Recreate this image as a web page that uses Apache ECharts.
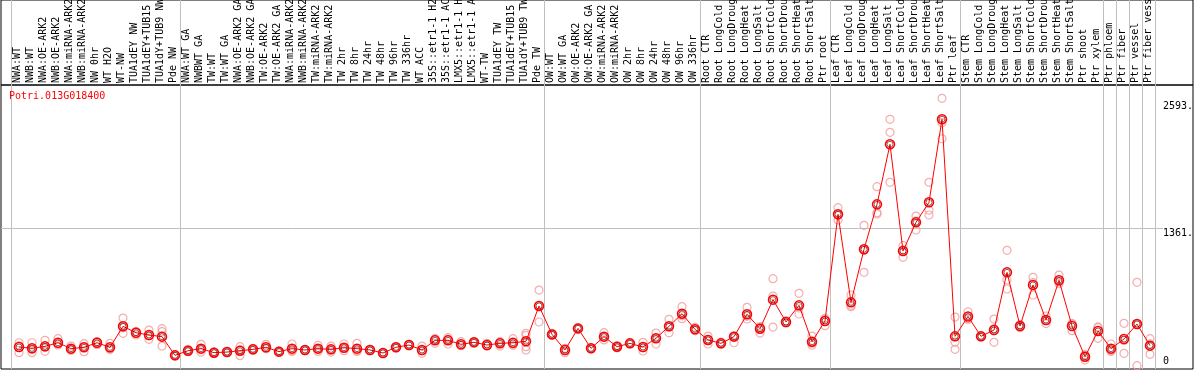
<!DOCTYPE html>
<html><head><meta charset="utf-8">
<script src="https://cdn.jsdelivr.net/npm/echarts@6/dist/echarts.min.js"></script>
<style>html,body{margin:0;padding:0;background:#fff}#c{width:1194px;height:370px}</style>
</head><body><div id="c"></div>
<script>
const geneId = 'Potri.013G018400';
const categories = ['NWA:WT','NWB:WT','NWA:OE-ARK2','NWB:OE-ARK2','NWA:miRNA-ARK2','NWB:miRNA-ARK2','NW 0hr','WT H2O','WT-NW','TUA1dEY NW','TUA1dEY+TUB15 NW','TUA1dY+TUB9 NW','Pde NW',
'NWA:WT GA','NWBWT GA','TW:WT','TW:WT GA','NWA:OE-ARK2 GA','NWB:OE-ARK2 GA','TW:OE-ARK2','TW:OE-ARK2 GA','NWA:miRNA-ARK2','NWB:miRNA-ARK2','TW:miRNA-ARK2','TW:miRNA-ARK2','TW 2hr','TW 8hr','TW 24hr','TW 48hr','TW 96hr','TW 336hr','WT ACC','35S::etr1-1 H2O','35S::etr1-1 ACC','LMX5::etr1-1 H2O','LMX5::etr1-1 ACC','WT-TW','TUA1dEY TW','TUA1dEY+TUB15 TW','TUA1dY+TUB9 TW','Pde TW',
'OW:WT','OW:WT GA','OW:OE-ARK2','OW:OE-ARK2 GA','OW:miRNA-ARK2','OW:miRNA-ARK2','OW 2hr','OW 8hr','OW 24hr','OW 48hr','OW 96hr','OW 336hr',
'Root CTR','Root LongCold','Root LongDrought','Root LongHeat','Root LongSalt','Root ShortCold','Root ShortDrought','Root ShortHeat','Root ShortSalt','Ptr root',
'Leaf CTR','Leaf LongCold','Leaf LongDrought','Leaf LongHeat','Leaf LongSalt','Leaf ShortCold','Leaf ShortDrought','Leaf ShortHeat','Leaf ShortSalt','Ptr leaf',
'Stem CTR','Stem LongCold','Stem LongDrought','Stem LongHeat','Stem LongSalt','Stem ShortCold','Stem ShortDrought','Stem ShortHeat','Stem ShortSalt','Ptr shoot','Ptr xylem',
'Ptr phloem','Ptr fiber','Ptr vessel','Ptr fiber vessel'];
const means = [213,200,219,254,197,210,254,210,413,351,329,313,132,
177,197,158,164,177,190,210,168,197,184,197,190,206,197,184,155,210,232,184,277,277,239,258,232,248,254,268,610,
335,184,393,200,313,216,248,213,297,413,535,384,
281,248,313,529,390,671,455,616,264,464,
1497,645,1158,1593,2174,1142,1419,1613,2416,316,
508,316,377,935,416,813,474,858,416,119,368,
197,290,435,226];
const rep1 = [254,254,277,293,222,245,260,248,493,361,377,390,132,
190,239,165,160,216,200,239,175,242,184,229,222,242,248,190,160,215,238,222,248,303,264,252,248,222,293,345,764,
345,158,400,205,351,225,252,258,348,481,603,403,
319,260,320,597,410,874,465,732,319,419,
1561,716,1390,1764,2416,1193,1480,1806,2619,502,
554,320,483,1148,400,887,513,909,440,87,400,
242,442,839,293];
const rep2 = [158,158,171,232,190,168,235,193,345,329,287,361,125,
170,164,150,168,129,180,195,160,170,180,170,164,177,174,178,150,205,226,152,290,242,225,262,222,258,229,325,455,
325,200,385,195,281,205,244,174,242,351,487,370,
242,240,254,484,348,706,445,532,250,480,
1442,603,935,1512,2290,1081,1345,1538,2383,261,
480,310,258,861,430,716,440,840,371,130,297,
170,152,32,142];
const rep3 = [225,190,210,240,180,215,265,190,400,362,322,222,140,
172,190,160,165,185,190,200,170,180,188,192,185,200,170,185,155,210,232,178,293,286,230,260,226,264,240,216,610,
335,194,393,200,307,218,248,207,300,407,515,380,
282,244,313,510,400,406,455,590,230,490,
1490,616,1150,1500,1806,1150,1430,1490,2228,190,
490,318,390,774,418,836,470,825,437,140,407,
180,276,434,243];
const extraReps = [[39, 184]];
const groupStarts = [0,13,41,53,63,73,84,85,86,87];
const yLabelValues = [1361, 2593];
const yZeroLabel = [0];
const yGridValues = [1361];
const Y_MAX = 2748;

const MONO = 'DejaVu Sans Mono';
const repData = [];
[rep1, rep2, rep3].forEach(r => r.forEach((v, i) => { if (v != null) repData.push([i, v]); }));
extraReps.forEach(p => repData.push(p));
const splitFn = i => groupStarts.indexOf(i) >= 0;
const gray = '#c0c0c0';
const NB = {outerBoundsMode: 'none', containLabel: false};

const chart = echarts.init(document.getElementById('c'));
chart.setOption({
  animation: false,
  backgroundColor: '#fff',
  title: {text: geneId, left: 9, top: 91, padding: 0,
    textStyle: {color: '#ff0000', fontFamily: MONO, fontSize: 10, fontWeight: 'normal'}},
  grid: [
    Object.assign({left: 1, top: 0, width: 1192, height: 85, show: true, borderColor: '#000', borderWidth: 1, backgroundColor: 'transparent'}, NB),
    Object.assign({left: 1, top: 85, width: 1192, height: 284, show: true, borderColor: '#000', borderWidth: 1, backgroundColor: 'transparent'}, NB),
    Object.assign({left: 11, top: 0, width: 1144, height: 85}, NB),
    Object.assign({left: 12.5, top: 85, width: 1144, height: 284}, NB),
    Object.assign({left: 1, top: 85, width: 1162, height: 284}, NB),
    Object.assign({left: 11, top: 85, width: 1144, height: 284}, NB)
  ],
  xAxis: [
    {gridIndex: 0, type: 'value', show: false},
    {gridIndex: 1, type: 'value', show: false},
    {gridIndex: 2, type: 'category', data: categories, position: 'bottom',
      axisLine: {show: false}, axisTick: {show: false},
      axisLabel: {inside: true, rotate: 90, interval: 0, margin: 2, fontFamily: MONO, fontSize: 10, color: '#000'},
      splitLine: {show: true, interval: splitFn, lineStyle: {color: gray, width: 1}}},
    {gridIndex: 3, type: 'category', data: categories,
      axisLine: {show: false}, axisTick: {show: false}, axisLabel: {show: false}, splitLine: {show: false}},
    {gridIndex: 4, type: 'value', show: false},
    {gridIndex: 5, type: 'category', data: categories,
      axisLine: {show: false}, axisTick: {show: false}, axisLabel: {show: false},
      splitLine: {show: true, interval: splitFn, lineStyle: {color: gray, width: 1}}}
  ],
  yAxis: [
    {gridIndex: 0, type: 'value', show: false},
    {gridIndex: 1, type: 'value', show: false},
    {gridIndex: 2, type: 'value', show: false},
    {gridIndex: 3, type: 'value', min: 0, max: Y_MAX, show: false},
    {gridIndex: 4, type: 'value', min: 0, max: Y_MAX, position: 'right',
      axisLine: {show: false}, axisTick: {show: false, customValues: yGridValues},
      splitLine: {show: true, lineStyle: {color: gray, width: 1}},
      axisLabel: {customValues: yZeroLabel, formatter: v => String(v), margin: 0, verticalAlign: 'bottom',
        padding: [0, 0, 3, 0], fontFamily: MONO, fontSize: 10, color: '#000'}},
    {gridIndex: 5, type: 'value', min: 0, max: Y_MAX, position: 'right',
      axisLine: {show: false}, axisTick: {show: false}, splitLine: {show: false},
      axisLabel: {customValues: yLabelValues, formatter: v => v + '.', margin: 8, verticalAlign: 'top',
        fontFamily: MONO, fontSize: 10, color: '#000'}}
  ],
  series: [
    {type: 'scatter', name: 'replicates', xAxisIndex: 3, yAxisIndex: 3, data: repData,
      symbol: 'circle', symbolSize: 8, clip: false, silent: true, z: 2,
      itemStyle: {color: 'rgba(0,0,0,0)', borderColor: '#f09a9a', borderWidth: 1.2}},
    {type: 'line', name: 'mean', xAxisIndex: 3, yAxisIndex: 3, data: means,
      symbol: 'circle', symbolSize: 9, showAllSymbol: true, clip: false, silent: true, z: 3,
      lineStyle: {color: '#ff0000', width: 1},
      itemStyle: {color: 'rgba(0,0,0,0)', borderColor: '#ff0000', borderWidth: 1.5}},
    {type: 'scatter', name: 'mean core', xAxisIndex: 3, yAxisIndex: 3, data: means,
      symbol: 'circle', symbolSize: 6, clip: false, silent: true, z: 4,
      itemStyle: {color: 'rgba(0,0,0,0)', borderColor: '#500000', borderWidth: 0.8}}
  ]
});
</script>
</body></html>
